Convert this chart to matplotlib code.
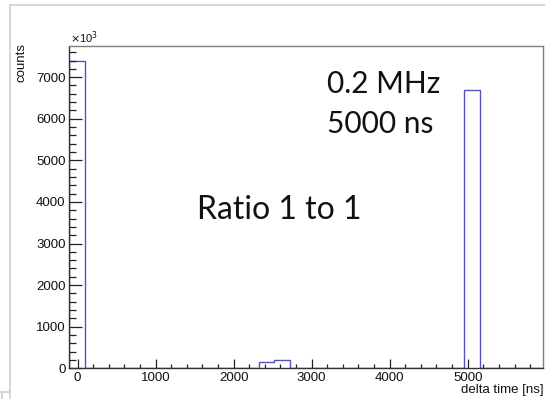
import numpy as np
import matplotlib
matplotlib.use("Agg")
import matplotlib.pyplot as plt
from matplotlib.lines import Line2D
from matplotlib.ticker import MultipleLocator

# ---- data (counts in units of 10^3) ----
x_min, x_max, n_bins = -110.0, 5965.0, 30
counts = [7380, 0, 0, 0, 0, 0, 0, 0, 0, 0,
          0, 0, 160, 190, 0, 0, 0, 0, 0, 0,
          0, 0, 0, 0, 0, 6700, 0, 0, 0, 0]
x_ticks = [0, 1000, 2000, 3000, 4000, 5000]
y_ticks = [0, 1000, 2000, 3000, 4000, 5000, 6000, 7000]
x_label = "delta time [ns]"
y_label = "counts"
note_rate = ["0.2 MHz", "5000 ns"]
note_ratio = "Ratio 1 to 1"

edges = np.linspace(x_min, x_max, n_bins + 1)

W, H = 545, 399
fig = plt.figure(figsize=(W / 100, H / 100), dpi=100)
ax = fig.add_axes([69 / W, 1 - 368.3 / H, (543 - 69) / W, (368.3 - 46) / H])

ax.stairs(counts, edges, color="#5252c0", linewidth=1.0, zorder=1)

ax.set_xlim(x_min, x_max)
ax.set_ylim(0, 1.05 * max(counts))

axis_font = ["Liberation Sans", "DejaVu Sans"]
ax.set_xticks(x_ticks)
ax.set_yticks(y_ticks)
ax.xaxis.set_minor_locator(MultipleLocator(200))
ax.yaxis.set_minor_locator(MultipleLocator(200))
ax.tick_params(axis="both", which="both", direction="in", colors="#222222",
               width=0.9, top=False, right=False)
ax.tick_params(axis="y", which="major", length=9.1, pad=2.5)
ax.tick_params(axis="y", which="minor", length=4.8)
ax.tick_params(axis="x", which="major", length=6.5, pad=3)
ax.tick_params(axis="x", which="minor", length=3.2)
for lab in ax.get_xticklabels() + ax.get_yticklabels():
    lab.set_fontfamily(axis_font)
    lab.set_fontsize(9.5)
    lab.set_color("#111111")

for s in ["left", "bottom"]:
    ax.spines[s].set_color("#333333")
    ax.spines[s].set_linewidth(1.0)
for s in ["top", "right"]:
    ax.spines[s].set_color("#808080")
    ax.spines[s].set_linewidth(1.0)
for s in ax.spines.values():
    s.set_zorder(3)

fig.text(544 / W, 1 - 390 / H, x_label, ha="right", va="center",
         fontsize=9.5, family=axis_font, color="#111111")
fig.text(21.5 / W, 1 - 43 / H, y_label, ha="center", va="top", rotation=90,
         fontsize=9.5, family=axis_font, color="#111111")
fig.text(69.5 / W, 1 - 45.5 / H, r"$\times$10$^{3}$", ha="left", va="bottom",
         fontsize=8, family=axis_font, color="#111111")

big_font = ["Lato", "Open Sans", "DejaVu Sans"]
for line, base in zip(note_rate, [93, 133]):
    fig.text(327 / W, 1 - base / H, line, ha="left", va="baseline",
             fontsize=21.5, family=big_font, color="#111111")
fig.text(197 / W, 1 - 219 / H, note_ratio, ha="left", va="baseline",
         fontsize=23, family=big_font, color="#111111")

# slide frame decorations
deco = "#d0d0d0"
fig.add_artist(Line2D([10 / W, 1], [1 - 5 / H, 1 - 5 / H], color=deco, lw=1.2,
                      transform=fig.transFigure))
fig.add_artist(Line2D([10 / W, 10 / W], [1 - 5 / H, 0], color=deco, lw=1.2,
                      transform=fig.transFigure))
fig.add_artist(Line2D([1 / W, 10 / W], [1 - 392 / H, 1 - 392 / H], color=deco, lw=1.2,
                      transform=fig.transFigure))
fig.add_artist(Line2D([1.5 / W, 1.5 / W], [1 - 392 / H, 0], color=deco, lw=1.2,
                      transform=fig.transFigure))

fig.savefig("out.png", dpi=100)
